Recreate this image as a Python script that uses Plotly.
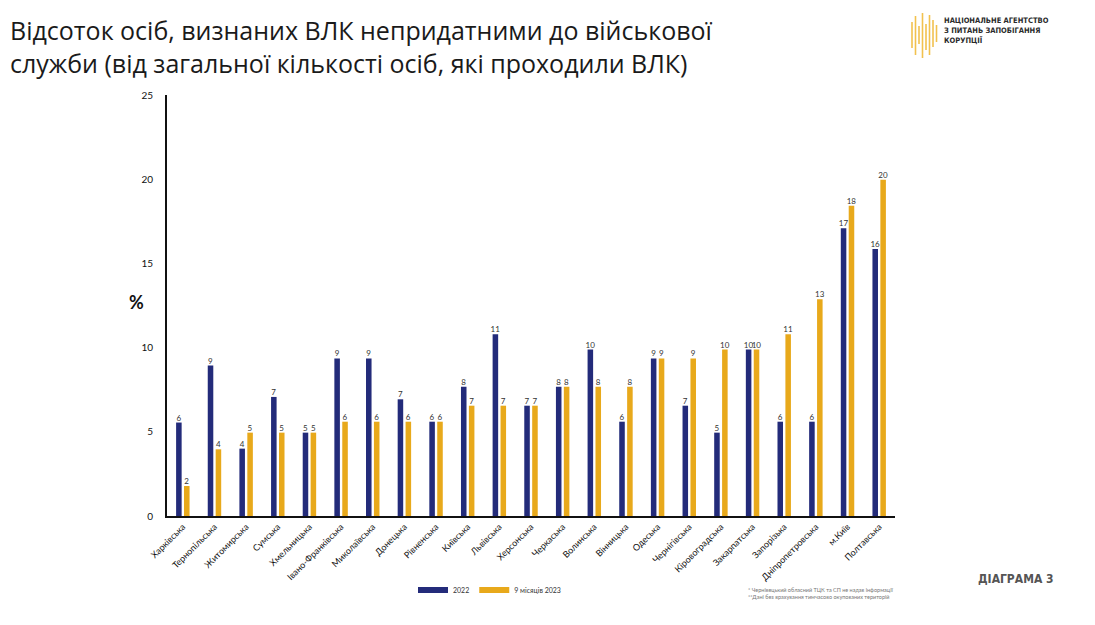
import plotly.graph_objects as go

regions = ["Харківська", "Тернопільська", "Житомирська", "Сумська", "Хмельницька",
           "Івано-Франківська", "Миколаївська", "Донецька", "Рівненська", "Київська",
           "Львівська", "Херсонська", "Черкаська", "Волинська", "Вінницька", "Одеська",
           "Чернігівська", "Кіровоградська", "Закарпатська", "Запорізька",
           "Дніпропетровська", "м.Київ", "Полтавська"]
v2022 = [5.55, 8.93, 4.0, 7.07, 4.95, 9.36, 9.36, 6.93, 5.6, 7.68,
         10.8, 6.55, 7.68, 9.88, 5.6, 9.36, 6.55, 4.95, 9.88, 5.6,
         5.6, 17.08, 15.85]
v2023 = [1.78, 3.96, 4.95, 4.95, 4.95, 5.6, 5.6, 5.6, 5.6, 6.55,
         6.55, 6.55, 7.68, 7.68, 7.68, 9.36, 9.36, 9.88, 9.88, 10.8,
         12.87, 18.43, 19.97]
series_names = ["2022", "9 місяців 2023"]
y_ticks = [0, 5, 10, 15, 20, 25]

NAVY = "#232B7A"
GOLD = "#E8A91B"
FONT = "Lato, 'Open Sans', sans-serif"
COND = "'DejaVu Sans Condensed', sans-serif"

# plot area in pixels
L, R, T, B = 167, 895, 95, 516
W_PX, H_PX = 1095, 625


def px(x):
    return (x - L) / (R - L)


def py(y):
    return (B - y) / (B - T)


fig = go.Figure()
for name, vals, col in [(series_names[0], v2022, NAVY), (series_names[1], v2023, GOLD)]:
    fig.add_trace(go.Bar(
        x=regions, y=vals, name=name, marker=dict(color=col, line=dict(width=0)),
        texttemplate="%{y:.0f}", textposition="outside", constraintext="none",
        textfont=dict(size=8, color="#333333", family=FONT),
        cliponaxis=False, showlegend=False,
    ))
    # legend swatch as a wide line
    fig.add_trace(go.Scatter(
        x=[None], y=[None], mode="lines", name=name,
        line=dict(color=col, width=6), showlegend=True,
    ))

fig.update_layout(
    width=W_PX, height=H_PX,
    margin=dict(l=L, r=W_PX - R, t=T, b=H_PX - B, autoexpand=False),
    paper_bgcolor="white", plot_bgcolor="white",
    barmode="group", bargap=0.5, bargroupgap=0.3,
    font=dict(family=FONT, color="#222222"),
    legend=dict(
        orientation="h", x=px(413), y=py(590), xanchor="left", yanchor="middle",
        font=dict(size=7, color="#333333", family=FONT),
        itemwidth=30, tracegroupgap=0, bgcolor="rgba(0,0,0,0)",
    ),
    xaxis=dict(
        type="category", tickangle=-45, showgrid=False,
        showline=True, linecolor="#111111", linewidth=2,
        tickfont=dict(size=9, color="#111111", family=FONT),
        ticks="", fixedrange=True,
    ),
    yaxis=dict(
        range=[0, 25], tickvals=y_ticks, showgrid=False, zeroline=False,
        showline=True, linecolor="#111111", linewidth=2,
        ticks="outside", ticklen=10, tickcolor="rgba(0,0,0,0)",
        tickfont=dict(size=10, color="#111111", family=FONT),
        fixedrange=True,
    ),
)

# title
fig.add_annotation(
    text="Відсоток осіб, визнаних ВЛК непридатними до військової<br>служби (від загальної кількості осіб, які проходили ВЛК)",
    x=px(8), y=py(11), xref="paper", yref="paper", xanchor="left", yanchor="top",
    align="left", showarrow=False,
    font=dict(family="'Open Sans', sans-serif", size=25, color="#1a1a1a", weight=500),
)

# "%" axis label
fig.add_annotation(text="<b>%</b>", x=px(127), y=py(302), xref="paper", yref="paper",
                   showarrow=False, font=dict(size=18, color="#111111", family=FONT))

# footnotes
fig.add_annotation(
    text="* Чернівецький обласний ТЦК та СП не надав інформації<br>**Дані без врахування тимчасово окупованих територій",
    x=px(895), y=py(593), xref="paper", yref="paper", xanchor="right", yanchor="middle",
    align="left", showarrow=False, font=dict(size=5.5, color="#777777", family=FONT),
)

# diagram label
fig.add_annotation(
    text="<b>ДІАГРАМА 3</b>", x=px(1056), y=py(579), xref="paper", yref="paper",
    xanchor="right", yanchor="middle", showarrow=False,
    font=dict(size=12, color="#555555", family=COND),
)

# logo text
fig.add_annotation(
    text="<b>НАЦІОНАЛЬНЕ АГЕНТСТВО<br>З ПИТАНЬ ЗАПОБІГАННЯ<br>КОРУПЦІЇ</b>",
    x=px(942), y=py(14), xref="paper", yref="paper", xanchor="left", yanchor="top",
    align="left", showarrow=False,
    font=dict(size=7.5, color="#2a2a2a", family=COND),
)

# logo bars (decorative)
logo_lines = [(912, 22, 48), (915.5, 16, 55), (919, 26, 44), (922.5, 13, 58),
              (926, 24, 50), (929.5, 15, 55), (933, 20, 47), (936.5, 25, 42)]
for lx, y0, y1 in logo_lines:
    fig.add_shape(type="line", xref="paper", yref="paper",
                  x0=px(lx), x1=px(lx), y0=py(y0), y1=py(y1),
                  line=dict(color="#F2C14E", width=1.6))

fig.write_html("out.html", config={"displayModeBar": False},
               post_script="document.body.style.margin='0';")
